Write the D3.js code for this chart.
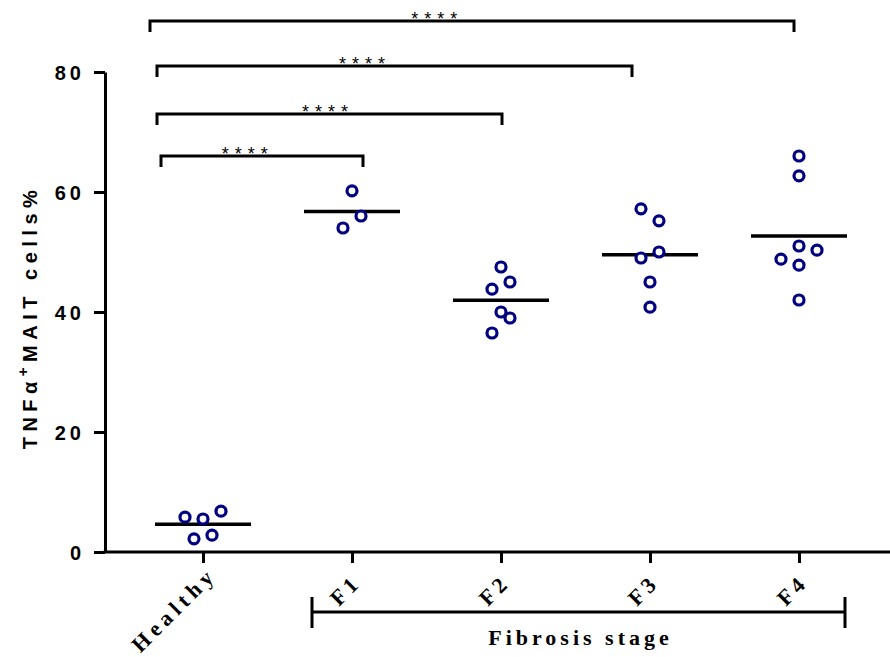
<!DOCTYPE html>
<html lang="en">
<head>
    <meta charset="utf-8">
    <script src="https://d3js.org/d3.v7.min.js"></script>
    <style>
        body { margin: 0; background: white; }
        svg { display: block; }
        .tick text { font-family: Arial, 'Liberation Sans', sans-serif; font-weight: bold; }
    </style>
</head>
<body>
<script>
    var width = 890, height = 657;

    // data
    var groups = ["Healthy", "F1", "F2", "F3", "F4"];
    var healthy = [5.8, 5.5, 6.8, 2.2, 2.8];
    var f1 = [60.2, 56, 54];
    var f2 = [47.5, 45, 43.8, 40, 39, 36.5];
    var f3 = [57.2, 55.2, 50, 49, 45, 40.8];
    var f4 = [66, 62.7, 51, 50.3, 48.8, 47.8, 42];
    var values = [healthy, f1, f2, f3, f4];
    var yTicks = [0, 20, 40, 60, 80];

    // horizontal slot of each point inside its column (scatter layout)
    var slots = [[-2, 0, 2, -1, 1], [0, 1, -1], [0, 1, -1, 0, 1, -1], [-1, 1, 1, -1, 0, 0], [0, 0, 0, 2, -2, 0, 0]];

    // significance brackets: from group, to group, level in data units
    var comparisons = [
        { from: "Healthy", to: "F4", level: 88.5, label: "****" },
        { from: "Healthy", to: "F3", level: 81, label: "****" },
        { from: "Healthy", to: "F2", level: 73, label: "****" },
        { from: "Healthy", to: "F1", level: 66, label: "****" }
    ];
    var bracketPad = [[-53, -5], [-46, -18], [-46, 1], [-42, 11]];
    var starAt = [0.446, 0.438, 0.496, 0.43];

    var svg = d3.select('body').append('svg').attr('width', width).attr('height', height);

    var x = d3.scalePoint().domain(groups).range([203, 799]);
    var y = d3.scaleLinear().domain([0, 80]).range([552, 72]);
    var axisX = 105;

    // y axis
    var yAxis = svg.append('g')
        .attr('transform', 'translate(' + axisX + ',0)')
        .call(d3.axisLeft(y).tickValues(yTicks).tickSize(11).tickSizeOuter(0).tickPadding(9));
    yAxis.select('.domain').attr('stroke-width', 3);
    yAxis.selectAll('.tick line').attr('stroke-width', 3);
    yAxis.selectAll('.tick text').attr('font-size', 20).attr('letter-spacing', 4).attr('dy', '0.36em');

    // x axis
    var xAxis = svg.append('g')
        .attr('transform', 'translate(0,' + y(0) + ')')
        .call(d3.axisBottom(x).tickSize(11).tickFormat(''));
    xAxis.select('.domain').remove();
    xAxis.selectAll('.tick line').attr('stroke-width', 3);
    svg.append('line')
        .attr('x1', axisX - 1.5).attr('x2', width)
        .attr('y1', y(0)).attr('y2', y(0))
        .attr('stroke', 'black').attr('stroke-width', 3);

    // y label
    var yl = svg.append('text')
        .attr('transform', 'translate(37,' + 317 + ') rotate(-90)')
        .attr('text-anchor', 'middle')
        .attr('font-family', 'Arial, Liberation Sans, sans-serif')
        .attr('font-weight', 'bold')
        .attr('font-size', 20)
        .attr('letter-spacing', 5.5);
    yl.append('tspan').text('TNFα');
    yl.append('tspan').attr('dy', -9).attr('font-size', 15).text('+');
    yl.append('tspan').attr('dy', 9).text('MAIT cells%');

    // x category labels
    svg.selectAll('text.xlab')
        .data(groups)
        .join('text')
        .attr('class', 'xlab')
        .attr('transform', function(d) {
            return 'translate(' + (x(d) + (d == 'Healthy' ? 15 : 10)) + ',' + (d == 'Healthy' ? 576 : 584) + ') rotate(-45)';
        })
        .attr('text-anchor', 'end')
        .attr('font-family', 'Liberation Serif, Times New Roman, serif')
        .attr('font-weight', 'bold')
        .attr('font-size', 22)
        .attr('letter-spacing', function(d) { return d == 'Healthy' ? 5 : 4; })
        .text(function(d) { return d; });

    // fibrosis bracket
    var fx1 = 312, fx2 = 845, fy = 612;
    svg.append('path')
        .attr('d', 'M' + fx1 + ',' + (fy - 15) + 'V' + (fy + 16) + 'M' + fx1 + ',' + fy + 'H' + fx2 + 'M' + fx2 + ',' + (fy - 15) + 'V' + (fy + 16))
        .attr('fill', 'none').attr('stroke', 'black').attr('stroke-width', 3);
    svg.append('text')
        .attr('x', (fx1 + fx2) / 2 + 2).attr('y', 645)
        .attr('text-anchor', 'middle')
        .attr('font-family', 'Liberation Serif, Times New Roman, serif')
        .attr('font-weight', 'bold')
        .attr('font-size', 22)
        .attr('letter-spacing', 4)
        .text('Fibrosis stage');

    // significance brackets
    comparisons.forEach(function(c, i) {
        var x1 = x(c.from) + bracketPad[i][0], x2 = x(c.to) + bracketPad[i][1], yy = y(c.level);
        svg.append('path')
            .attr('d', 'M' + x1 + ',' + (yy + 11) + 'V' + yy + 'H' + x2 + 'V' + (yy + 11))
            .attr('fill', 'none').attr('stroke', 'black').attr('stroke-width', 3);
        svg.append('text')
            .attr('x', x1 + (x2 - x1) * starAt[i]).attr('y', yy + 4)
            .attr('text-anchor', 'middle')
            .attr('font-family', 'Arial, Liberation Sans, sans-serif')
            .attr('font-size', 18)
            .attr('letter-spacing', 6)
            .text(c.label);
    });

    // mean lines
    svg.selectAll('line.mean')
        .data(groups)
        .join('line')
        .attr('class', 'mean')
        .attr('x1', function(d) { return x(d) - 48; })
        .attr('x2', function(d) { return x(d) + 48; })
        .attr('y1', function(d, i) { return y(d3.mean(values[i])); })
        .attr('y2', function(d, i) { return y(d3.mean(values[i])); })
        .attr('stroke', 'black').attr('stroke-width', 3.5);

    // points
    var pts = [];
    groups.forEach(function(g, i) {
        values[i].forEach(function(v, j) {
            pts.push({ group: g, value: v, slot: slots[i][j] });
        });
    });
    svg.selectAll('circle')
        .data(pts)
        .join('circle')
        .attr('cx', function(d) { return x(d.group) + d.slot * 9; })
        .attr('cy', function(d) { return y(d.value); })
        .attr('r', 5)
        .attr('fill', 'white')
        .attr('stroke', '#000080')
        .attr('stroke-width', 3.2);
</script>
</body>
</html>
